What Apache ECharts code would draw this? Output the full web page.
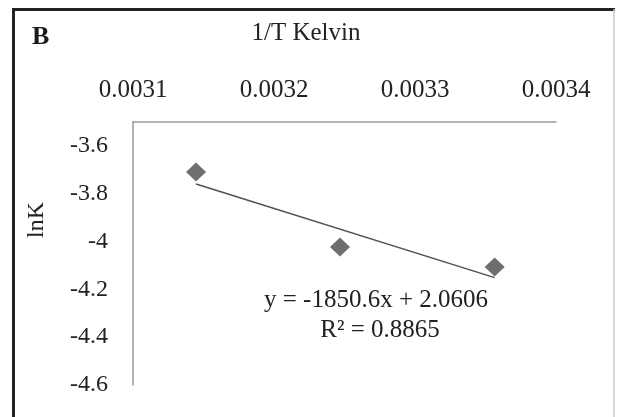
<!DOCTYPE html>
<html>
<head>
<meta charset="utf-8">
<script src="https://cdn.jsdelivr.net/npm/echarts@6/dist/echarts.min.js"></script>
<style>html,body{margin:0;padding:0;background:#fff;}#c{width:617px;height:417px;}</style>
</head>
<body>
<div id="c"></div>
<script>
// Data
const invT = [0.0031447, 0.0032468, 0.0033565];
const lnK = [-3.709, -4.023, -4.106];
const xTicks = [0.0031, 0.0032, 0.0033, 0.0034];
const yTicks = [-3.6, -3.8, -4, -4.2, -4.4, -4.6];
const trendSlope = -1850.6;
const trendIntercept = 2.0606;
const eqText = 'y = -1850.6x + 2.0606';
const r2Text = 'R\u00b2 = 0.8865';

const points = invT.map((x, i) => [x, lnK[i]]);
const trendX = [invT[0], invT[invT.length - 1]];
const trend = trendX.map(x => [x, trendSlope * x + trendIntercept]);

const FONT = '"Liberation Serif", "Times New Roman", serif';
const chart = echarts.init(document.getElementById('c'), null, {renderer: 'canvas'});
chart.setOption({
  backgroundColor: '#fff',
  animation: false,
  grid: {left: 133, top: 122, right: 61, bottom: 32, containLabel: false},
  xAxis: {
    type: 'value', position: 'top',
    min: 0.0031, max: 0.0034, interval: 0.0001,
    axisLine: {show: true, lineStyle: {color: '#9a9a9a', width: 1.5}},
    axisTick: {show: false},
    splitLine: {show: false},
    axisLabel: {
      margin: 19, color: '#222', fontFamily: FONT, fontSize: 25,
      formatter: v => {
        const m = xTicks.find(t => Math.abs(t - v) < 1e-9);
        return m !== undefined ? m.toFixed(4) : '';
      }
    }
  },
  yAxis: {
    type: 'value',
    min: -4.6, max: -3.5, interval: 0.2,
    axisLine: {show: true, lineStyle: {color: '#9a9a9a', width: 1.5}},
    axisTick: {show: false},
    splitLine: {show: false},
    axisLabel: {
      margin: 25, color: '#222', fontFamily: FONT, fontSize: 24,
      showMaxLabel: false,
      formatter: v => {
        const m = yTicks.find(t => Math.abs(t - v) < 1e-9);
        return m !== undefined ? String(m) : '';
      }
    }
  },
  series: [
    {
      type: 'line', data: trend, showSymbol: false, symbol: 'none',
      lineStyle: {color: '#505050', width: 1.5}, z: 2, silent: true
    },
    {
      type: 'scatter', data: points, symbol: 'diamond', symbolSize: [20, 19],
      itemStyle: {color: '#4a4a4a'}, z: 3
    }
  ],
  graphic: [
    {type: 'line', shape: {x1: 13.5, y1: 8, x2: 13.5, y2: 417}, style: {stroke: '#222', lineWidth: 3}, z: 10},
    {type: 'line', shape: {x1: 12, y1: 9.5, x2: 615, y2: 9.5}, style: {stroke: '#222', lineWidth: 3}, z: 10},
    {type: 'line', shape: {x1: 614, y1: 9, x2: 614, y2: 417}, style: {stroke: '#c8c8c8', lineWidth: 1.5}, z: 10},
    {type: 'text', left: 32, top: 24, style: {text: 'B', font: 'bold 26px ' + FONT, fill: '#1a1a1a'}},
    {type: 'text', x: 306, y: 33, style: {text: '1/T Kelvin', font: '25px ' + FONT, fill: '#222', textAlign: 'center', textVerticalAlign: 'middle'}},
    {type: 'text', x: 37, y: 220, rotation: Math.PI / 2, style: {text: 'lnK', font: '24px ' + FONT, fill: '#222', textAlign: 'center', textVerticalAlign: 'middle'}},
    {type: 'text', x: 376, y: 300, style: {text: eqText, font: '25px ' + FONT, fill: '#222', textAlign: 'center', textVerticalAlign: 'middle'}},
    {type: 'text', x: 380, y: 330, style: {text: r2Text, font: '25px ' + FONT, fill: '#222', textAlign: 'center', textVerticalAlign: 'middle'}}
  ]
});
</script>
</body>
</html>
